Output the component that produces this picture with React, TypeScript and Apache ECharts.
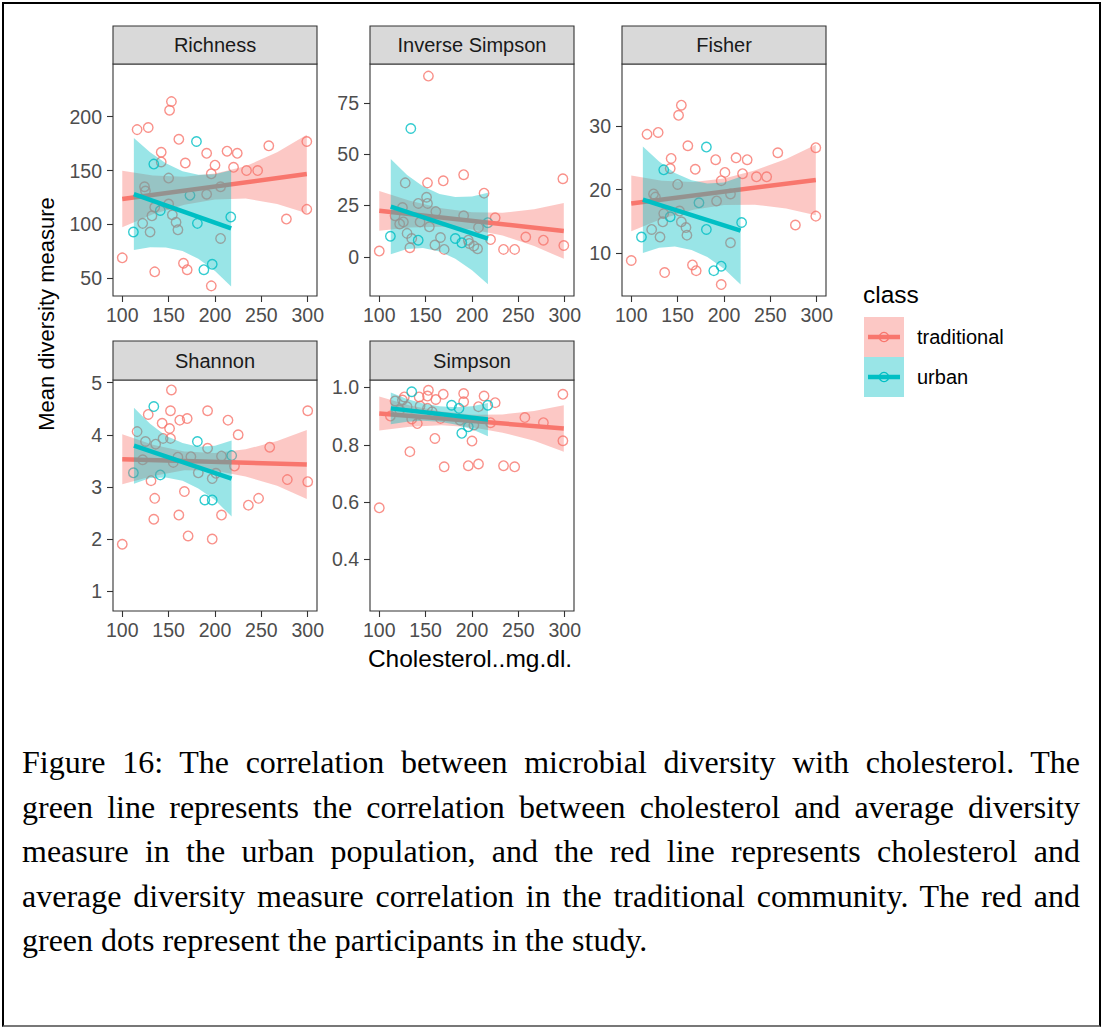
import React, { useEffect, useRef } from "react";
import * as echarts from "echarts";

const TRADITIONAL = "#F8766D";
const URBAN = "#00BFC4";
const TRADITIONAL_FILL = "rgba(248,118,109,0.4)";
const URBAN_FILL = "rgba(0,191,196,0.4)";
const SANS = "'Liberation Sans', Arial, Helvetica, sans-serif";
const SERIF = "'Liberation Serif', 'Times New Roman', serif";

const classNames = ["traditional", "urban"];
const facetTitles = ["Richness", "Inverse Simpson", "Fisher", "Shannon", "Simpson"];
const xTitle = "Cholesterol..mg.dl.";
const yTitle = "Mean diversity measure";
const legendTitle = "class";

const xTicks = [100, 150, 200, 250, 300];
const richnessTicks = [50, 100, 150, 200];
const invSimpsonTicks = [0, 25, 50, 75];
const fisherTicks = [10, 20, 30];
const shannonTicks = [1, 2, 3, 4, 5];
const simpsonTicks = [0.4, 0.6, 0.8, 1.0];

// [cholesterol, diversity] per participant
const richnessTraditional = [
  [100, 69], [116, 188], [128, 190], [153, 214], [151, 206], [161, 179], [142, 167], [142, 158],
  [168, 157], [191, 166], [200, 155], [196, 147], [213, 168], [224, 166], [220, 153], [234, 150],
  [246, 150], [258, 173], [299, 177], [299, 114], [277, 105], [135, 56], [166, 64], [170, 58],
  [196, 43], [124, 135], [125, 131], [150, 143], [150, 119], [135, 116], [132, 108], [154, 109],
  [158, 102], [160, 95], [122, 101], [130, 93], [191, 128], [206, 135], [206, 87],
];
const richnessUrban = [
  [112, 93], [134, 156], [141, 113], [173, 127], [180, 177], [181, 101], [188, 58], [197, 63], [217, 107],
];

const invSimpsonTraditional = [
  [100, 2.8], [153, 88], [152, 36], [169, 37], [191, 40], [213, 31], [225, 19], [220, 8.4],
  [234, 3.6], [246, 3.6], [258, 9.6], [277, 8.1], [298, 38], [299, 5.5], [133, 4.4], [160, 5.7],
  [170, 3.6], [128, 36], [125, 24], [117, 20], [122, 16], [126, 17], [130, 11.4], [135, 8.9],
  [142, 26], [144, 17], [151, 29], [152, 26], [154, 14.6], [161, 22], [166, 9.4], [191, 20],
  [196, 8.1], [197, 6.5], [202, 5.2], [206, 3.9], [207, 14.3],
];
const invSimpsonUrban = [
  [112, 10], [134, 62.5], [142, 8.1], [182, 8.9], [189, 6.8], [217, 16.6],
];

const fisherTraditional = [
  [100, 8.8], [117, 28.7], [129, 29], [154, 33.3], [151, 31.7], [161, 26.9], [143, 24.9], [142, 23.3],
  [169, 23.2], [191, 24.7], [201, 22.7], [197, 21.4], [213, 25], [225, 24.7], [220, 22.5], [235, 22],
  [246, 22], [258, 25.8], [299, 26.6], [299, 15.8], [277, 14.4], [136, 6.9], [166, 8.1], [170, 7.2],
  [197, 5], [124, 19.3], [126, 18.8], [150, 20.8], [152, 16.6], [135, 16.2], [134, 14.9], [154, 14.9],
  [159, 14], [160, 12.8], [122, 13.7], [131, 12.5], [192, 18.2], [207, 19.3], [207, 11.6],
];
const fisherUrban = [
  [111, 12.5], [135, 23.1], [142, 15.7], [173, 17.9], [181, 26.7], [181, 13.7], [189, 7.2], [197, 7.9], [219, 14.8],
];

const shannonTraditional = [
  [100, 1.9], [153, 4.86], [152, 4.46], [128, 4.39], [143, 4.22], [151, 4.12], [162, 4.28], [170, 4.31],
  [192, 4.46], [214, 4.28], [225, 4.0], [259, 3.76], [300, 4.46], [300, 3.1], [278, 3.14], [247, 2.78],
  [236, 2.65], [221, 3.4], [131, 3.12], [135, 2.78], [134, 2.38], [167, 2.91], [161, 2.46], [171, 2.06],
  [197, 2.0], [207, 2.46], [116, 4.06], [125, 3.87], [136, 3.82], [144, 3.93], [152, 3.93], [122, 3.52],
  [155, 3.47], [160, 3.57], [174, 3.58], [192, 3.74], [182, 3.27], [197, 3.16], [201, 3.26], [207, 3.59],
];
const shannonUrban = [
  [112, 3.27], [134, 4.54], [141, 3.23], [181, 3.87], [189, 2.75], [197, 2.75], [218, 3.6],
];

const simpsonTraditional = [
  [100, 0.58], [133, 0.776], [160, 0.822], [170, 0.723], [196, 0.727], [207, 0.733], [200, 0.813], [234, 0.727],
  [246, 0.723], [257, 0.895], [277, 0.877], [298, 0.976], [298, 0.814], [153, 0.99], [152, 0.97], [169, 0.976],
  [191, 0.979], [191, 0.95], [213, 0.97], [225, 0.947], [220, 0.877], [143, 0.967], [161, 0.958], [127, 0.967],
  [117, 0.953], [125, 0.956], [130, 0.933], [122, 0.921], [135, 0.89], [144, 0.935], [141, 0.874], [152, 0.927],
  [166, 0.892], [187, 0.886], [202, 0.869], [207, 0.933], [112, 0.9], [157, 0.915],
];
const simpsonUrban = [
  [135, 0.985], [178, 0.938], [186, 0.927], [189, 0.84], [196, 0.863], [217, 0.938],
];

// Linear fits: [cholesterol, fitted value] at each end of the group's range
const richnessTraditionalFit = [[100, 123.6], [299, 146.8]];
const richnessUrbanFit = [[112.5, 128.2], [217.4, 96.4]];
const invSimpsonTraditionalFit = [[100, 22.4], [299, 12.6]];
const invSimpsonUrbanFit = [[112.4, 24.4], [217.2, 8.9]];
const fisherTraditionalFit = [[100, 17.8], [299, 21.5]];
const fisherUrbanFit = [[112.5, 18.4], [217.9, 13.5]];
const shannonTraditionalFit = [[100, 3.53], [299, 3.43]];
const shannonUrbanFit = [[112.6, 3.79], [217.9, 3.16]];
const simpsonTraditionalFit = [[100, 0.909], [299, 0.857]];
const simpsonUrbanFit = [[112.4, 0.927], [217.2, 0.888]];

// Confidence bands: [cholesterol, lower, upper]
const richnessTraditionalBand = [
  [100, 97.3, 149.9], [133, 109.4, 145.4], [167, 118.3, 144.3], [200, 123.2, 147.2],
  [233, 124, 154], [267, 119, 167], [299, 110.3, 183.3],
];
const richnessUrbanBand = [
  [112.5, 76.2, 180.2], [130, 78.9, 166.9], [147, 78.7, 156.7], [165, 75.3, 149.3],
  [182, 68.1, 146.1], [200, 56.7, 146.7], [217.4, 42.4, 150.4],
];
const invSimpsonTraditionalBand = [
  [100, 12.7, 32.1], [133, 14.3, 27.3], [167, 14.6, 23.6], [200, 13.3, 21.7],
  [233, 10.4, 21.4], [267, 5.2, 23.2], [299, -1.0, 26.2],
];
const invSimpsonUrbanBand = [
  [112.4, 1.2, 47.6], [130, 3.8, 39.8], [147, 4.3, 34.3], [165, 2.6, 30.6],
  [182, -0.9, 29.1], [200, -6.6, 29.4], [217.2, -13.4, 31.2],
];
const fisherTraditionalBand = [
  [100, 13.4, 22.2], [133, 15.4, 21.4], [167, 16.8, 21.2], [200, 17.55, 21.75],
  [233, 17.6, 23.0], [267, 17.0, 24.8], [299, 15.95, 27.05],
];
const fisherUrbanBand = [
  [112.5, 10.0, 26.8], [130, 10.8, 24.4], [147, 11.0, 22.6], [165, 10.45, 21.45],
  [182, 9.35, 20.95], [200, 7.5, 21.1], [217.9, 5.0, 22.0],
];
const shannonTraditionalBand = [
  [100, 3.05, 4.01], [133, 3.21, 3.81], [167, 3.32, 3.68], [200, 3.31, 3.65],
  [233, 3.2, 3.72], [267, 3.02, 3.88], [299, 2.77, 4.09],
];
const shannonUrbanBand = [
  [112.6, 3.06, 4.52], [130, 3.17, 4.21], [147, 3.18, 3.98], [165, 3.12, 3.84],
  [182, 2.97, 3.77], [200, 2.75, 3.79], [217.9, 2.43, 3.89],
];
const simpsonTraditionalBand = [
  [100, 0.85, 0.968], [133, 0.863, 0.937], [167, 0.868, 0.916], [200, 0.861, 0.905],
  [233, 0.842, 0.906], [267, 0.814, 0.918], [299, 0.776, 0.938],
];
const simpsonUrbanBand = [
  [112.4, 0.872, 0.982], [130, 0.88, 0.96], [147, 0.884, 0.944], [165, 0.88, 0.934],
  [182, 0.871, 0.931], [200, 0.854, 0.934], [217.2, 0.83, 0.946],
];

const captionLines = [
  "Figure 16: The correlation between microbial diversity with cholesterol. The",
  "green line represents the correlation between cholesterol and average diversity",
  "measure in the urban population, and the red line represents cholesterol and",
  "average diversity measure correlation in the traditional community. The red and",
  "green dots represent the participants in the study.",
];

// Panel layout (pixels) and per-panel y ranges
const panelBoxes = [
  { left: 113, top: 64, width: 204, height: 232 },
  { left: 370, top: 64, width: 204, height: 232 },
  { left: 622, top: 64, width: 204, height: 232 },
  { left: 113, top: 380, width: 204, height: 231 },
  { left: 370, top: 380, width: 204, height: 231 },
];
const STRIP_H = [38, 38, 38, 39, 39];
const X_RANGE = [90, 310];
const yRanges = [
  [33.6, 248.9],
  [-19.1, 93.9],
  [3.2, 39.8],
  [0.62, 5.05],
  [0.22, 1.026],
];

const facets = [
  { trad: richnessTraditional, urban: richnessUrban, tradFit: richnessTraditionalFit, urbanFit: richnessUrbanFit, tradBand: richnessTraditionalBand, urbanBand: richnessUrbanBand, yTicks: richnessTicks, digits: 0 },
  { trad: invSimpsonTraditional, urban: invSimpsonUrban, tradFit: invSimpsonTraditionalFit, urbanFit: invSimpsonUrbanFit, tradBand: invSimpsonTraditionalBand, urbanBand: invSimpsonUrbanBand, yTicks: invSimpsonTicks, digits: 0 },
  { trad: fisherTraditional, urban: fisherUrban, tradFit: fisherTraditionalFit, urbanFit: fisherUrbanFit, tradBand: fisherTraditionalBand, urbanBand: fisherUrbanBand, yTicks: fisherTicks, digits: 0 },
  { trad: shannonTraditional, urban: shannonUrban, tradFit: shannonTraditionalFit, urbanFit: shannonUrbanFit, tradBand: shannonTraditionalBand, urbanBand: shannonUrbanBand, yTicks: shannonTicks, digits: 0 },
  { trad: simpsonTraditional, urban: simpsonUrban, tradFit: simpsonTraditionalFit, urbanFit: simpsonUrbanFit, tradBand: simpsonTraditionalBand, urbanBand: simpsonUrbanBand, yTicks: simpsonTicks, digits: 1 },
];

function pointSeries(idx: number, data: number[][], color: string, name: string) {
  return {
    type: "scatter",
    name,
    xAxisIndex: idx,
    yAxisIndex: idx,
    data,
    symbol: "circle",
    symbolSize: 9.5,
    itemStyle: { color: "rgba(0,0,0,0)", borderColor: color, borderWidth: 1.4 },
    z: 2,
    silent: true,
  };
}

function bandSeries(idx: number, band: number[][], fill: string, z: number) {
  return {
    type: "custom",
    xAxisIndex: idx,
    yAxisIndex: idx,
    data: band,
    encode: { x: 0, y: [1, 2] },
    z,
    silent: true,
    renderItem: (params: any, api: any) => {
      if (params.dataIndex !== 0) return null;
      const upper = band.map((r) => api.coord([r[0], r[2]]));
      const lower = band.map((r) => api.coord([r[0], r[1]])).reverse();
      return {
        type: "polygon",
        shape: { points: upper.concat(lower) },
        style: { fill, stroke: "none" },
      };
    },
  };
}

function fitSeries(idx: number, fit: number[][], color: string, z: number) {
  return {
    type: "line",
    xAxisIndex: idx,
    yAxisIndex: idx,
    data: fit,
    symbol: "none",
    showSymbol: false,
    lineStyle: { color, width: 4.5, cap: "butt" },
    z,
    silent: true,
  };
}

function buildOption() {
  const grid = panelBoxes.map((b) => ({
    ...b,
    show: true,
    borderColor: "#333333",
    borderWidth: 1.1,
    backgroundColor: "#ffffff",
    containLabel: false,
    outerBoundsMode: "none",
  }));

  const tickStyle = { color: "#333333", width: 1.1 };
  const xAxis = panelBoxes.map((_, i) => ({
    gridIndex: i,
    type: "value",
    min: X_RANGE[0],
    max: X_RANGE[1],
    axisLine: { show: false, onZero: false },
    splitLine: { show: false },
    axisTick: { show: true, length: 6, lineStyle: tickStyle, customValues: xTicks },
    axisLabel: {
      customValues: xTicks,
      color: "#4D4D4D",
      fontSize: 19.5,
      fontFamily: SANS,
      margin: 8.5,
      hideOverlap: false,
    },
  }));

  const yAxis = facets.map((f, i) => ({
    gridIndex: i,
    type: "value",
    min: yRanges[i][0],
    max: yRanges[i][1],
    axisLine: { show: false, onZero: false },
    splitLine: { show: false },
    axisTick: { show: true, length: 6, lineStyle: tickStyle, customValues: f.yTicks },
    axisLabel: {
      customValues: f.yTicks,
      color: "#4D4D4D",
      fontSize: 19.5,
      fontFamily: SANS,
      margin: 11,
      formatter: (v: number) => v.toFixed(f.digits),
    },
  }));

  const series: any[] = [];
  facets.forEach((f, i) => {
    series.push(pointSeries(i, f.trad, TRADITIONAL, classNames[0]));
    series.push(pointSeries(i, f.urban, URBAN, classNames[1]));
    series.push(bandSeries(i, f.tradBand, TRADITIONAL_FILL, 3));
    series.push(fitSeries(i, f.tradFit, TRADITIONAL, 4));
    series.push(bandSeries(i, f.urbanBand, URBAN_FILL, 5));
    series.push(fitSeries(i, f.urbanFit, URBAN, 6));
  });

  const graphic: any[] = [];
  // facet strips
  panelBoxes.forEach((b, i) => {
    const h = STRIP_H[i];
    graphic.push({
      type: "rect",
      shape: { x: b.left, y: b.top - h, width: b.width, height: h },
      style: { fill: "#D9D9D9", stroke: "#333333", lineWidth: 1.1 },
      z: 10,
    });
    graphic.push({
      type: "text",
      x: b.left + b.width / 2,
      y: b.top - h / 2,
      style: {
        text: facetTitles[i],
        fill: "#1A1A1A",
        fontSize: 20,
        fontFamily: SANS,
        textAlign: "center",
        textVerticalAlign: "middle",
      },
      z: 11,
    });
  });

  // axis titles
  graphic.push({
    type: "text",
    x: 470,
    y: 658,
    style: {
      text: xTitle,
      fill: "#000000",
      fontSize: 24.5,
      fontFamily: SANS,
      textAlign: "center",
      textVerticalAlign: "middle",
    },
  });
  graphic.push({
    type: "text",
    x: 46,
    y: 314,
    rotation: Math.PI / 2,
    style: {
      text: yTitle,
      fill: "#000000",
      fontSize: 22,
      fontFamily: SANS,
      textAlign: "center",
      textVerticalAlign: "middle",
    },
  });

  // legend
  graphic.push({
    type: "text",
    x: 863,
    y: 294,
    style: {
      text: legendTitle,
      fill: "#000000",
      fontSize: 24.5,
      fontFamily: SANS,
      textAlign: "left",
      textVerticalAlign: "middle",
    },
  });
  const keys = [
    { color: TRADITIONAL, fill: TRADITIONAL_FILL, y: 317 },
    { color: URBAN, fill: URBAN_FILL, y: 357 },
  ];
  keys.forEach((k, i) => {
    const cy = k.y + 20;
    graphic.push({ type: "rect", shape: { x: 864, y: k.y, width: 40, height: 40 }, style: { fill: k.fill } });
    graphic.push({ type: "line", shape: { x1: 868, y1: cy, x2: 900, y2: cy }, style: { stroke: k.color, lineWidth: 4.5 } });
    graphic.push({ type: "circle", shape: { cx: 884, cy, r: 4.6 }, style: { fill: "none", stroke: k.color, lineWidth: 1.4 } });
    graphic.push({
      type: "text",
      x: 917,
      y: cy,
      style: {
        text: classNames[i],
        fill: "#000000",
        fontSize: 20,
        fontFamily: SANS,
        textAlign: "left",
        textVerticalAlign: "middle",
      },
    });
  });

  return {
    animation: false,
    backgroundColor: "#ffffff",
    grid,
    xAxis,
    yAxis,
    series,
    graphic,
  };
}

export default function App() {
  const ref = useRef<HTMLDivElement>(null);
  useEffect(() => {
    document.body.style.margin = "0";
    const chart = echarts.init(ref.current as HTMLDivElement, undefined, { renderer: "svg" });
    chart.setOption(buildOption() as any);
    return () => chart.dispose();
  }, []);

  return (
    <div style={{ position: "relative", width: 1101, height: 1027, overflow: "hidden", background: "#ffffff" }}>
      <style>{"body{margin:0}"}</style>
      <div ref={ref} style={{ position: "absolute", left: 0, top: 0, width: 1101, height: 700 }} />
      <div
        style={{
          position: "absolute",
          left: 22,
          top: 740,
          width: 1058,
          fontFamily: SERIF,
          fontSize: 32,
          color: "#000000",
        }}
      >
        {captionLines.map((line, i) => (
          <div
            key={i}
            style={{
              height: 44.5,
              lineHeight: "44.5px",
              textAlign: "justify",
              textAlignLast: i < captionLines.length - 1 ? "justify" : "left",
            }}
          >
            {line}
          </div>
        ))}
      </div>
      <div
        style={{
          position: "absolute",
          left: 2,
          top: 2,
          width: 1099,
          height: 1025,
          boxSizing: "border-box",
          borderTop: "2px solid #000000",
          borderLeft: "2px solid #000000",
          borderRight: "2px solid #000000",
          borderBottom: "2px solid #777777",
          pointerEvents: "none",
        }}
      />
    </div>
  );
}
